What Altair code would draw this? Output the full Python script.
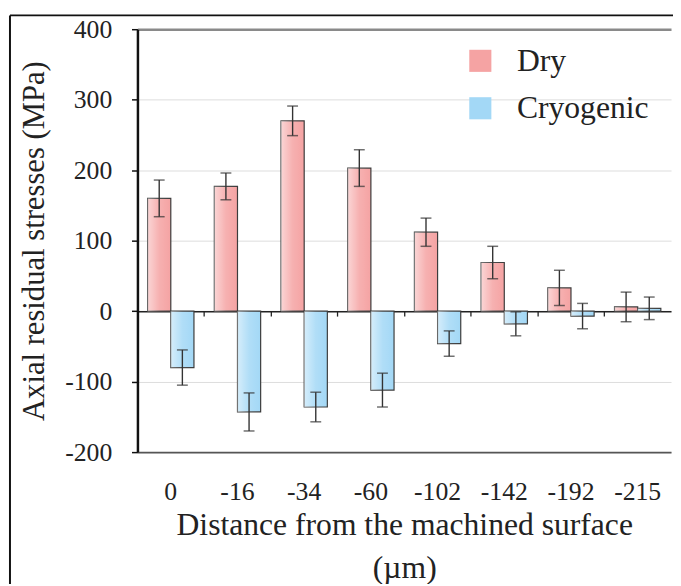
import altair as alt
import pandas as pd

categories = ["0", "-16", "-34", "-60", "-102", "-142", "-192", "-215"]
series_names = ["Dry", "Cryogenic"]
dry = [160, 177, 270, 203, 112, 69, 33, 6]
dry_err = [26, 19, 21, 26, 20, 23, 25, 21]
cryo = [-80, -143, -136, -112, -46, -18, -7, 4]
cryo_err = [25, 27, 21, 24, 18, 17, 18, 16]

rows = []
for i, c in enumerate(categories):
    rows.append({"cat": c, "series": "Dry", "value": dry[i], "err": dry_err[i]})
    rows.append({"cat": c, "series": "Cryogenic", "value": cryo[i], "err": cryo_err[i]})
df = pd.DataFrame(rows)
df["lo"] = df["value"] - df["err"]
df["hi"] = df["value"] + df["err"]

FONT = "Liberation Serif"
W, H = 540, 428

xscale = alt.Scale(domain=categories, paddingInner=0, paddingOuter=0)
xoff = alt.XOffset("series:N", sort=series_names,
                   scale=alt.Scale(domain=series_names, paddingInner=0, paddingOuter=0.44))
yscale = alt.Scale(domain=[-200, 400], nice=False, zero=False)

label_axis = alt.Axis(
    orient="bottom", ticks=False, labelFont=FONT, labelFontSize=26, labelColor="#222",
    labelPadding=27, labelAngle=0, domainColor="#555", domainWidth=2, grid=False,
    title=["Distance from the machined surface", "(\u00b5m)"], titleFont=FONT,
    titleFontSize=32, titleFontWeight="normal", titleColor="#222", titleLineHeight=44,
    titlePadding=5,
)
zero_axis = alt.Axis(
    orient="bottom", offset=-(H * 200 / 600), labels=False, ticks=True, tickSize=5,
    tickColor="#222", tickWidth=1.3, bandPosition=0, domainColor="#222", domainWidth=1.5,
    grid=False, title=None,
)
y_axis = alt.Axis(
    values=[-200, -100, 0, 100, 200, 300, 400], labelExpr="'' + datum.value",
    labelFont=FONT, labelFontSize=26,
    labelColor="#222", labelPadding=20, tickSize=6, tickColor="#111", tickWidth=1.5,
    domainColor="#111", domainWidth=2.5,
    gridColor=alt.condition("datum.value == 400", alt.value("#8a8a8a"), alt.value("#dcdcdc")),
    gridWidth=alt.condition("datum.value == 400", alt.value(2.5), alt.value(1)),
    title="Axial residual stresses (MPa)", titleFont=FONT, titleFontSize=31,
    titleFontWeight="normal", titleColor="#222", titlePadding=14,
)

base = alt.Chart(df)

bars = base.mark_bar(stroke="#3c3c3c", strokeWidth=1.2).encode(
    x=alt.X("cat:N", sort=categories, scale=xscale, axis=label_axis),
    xOffset=xoff,
    y=alt.Y("value:Q", scale=yscale, axis=y_axis),
    color=alt.Color(
        "series:N", sort=series_names,
        scale=alt.Scale(domain=series_names, range=["#f5a3a3", "#a3d8f6"]),
        legend=alt.Legend(
            orient="none", legendX=331, legendY=16, title=None, symbolType="square",
            symbolSize=500, symbolStrokeWidth=0, symbolOpacity=1, labelFont=FONT,
            labelFontSize=32, labelColor="#222", rowPadding=16, labelOffset=21, padding=0,
        ),
    ),
)

shine = base.mark_bar(
    fill=alt.Gradient(
        gradient="linear", x1=0, x2=1, y1=0, y2=0,
        stops=[
            alt.GradientStop(offset=0, color="rgba(255,255,255,0.55)"),
            alt.GradientStop(offset=0.5, color="rgba(255,255,255,0.15)"),
            alt.GradientStop(offset=1, color="rgba(255,255,255,0)"),
        ],
    ),
    strokeWidth=0,
).encode(
    x=alt.X("cat:N", sort=categories, scale=xscale, axis=None),
    xOffset=xoff,
    y=alt.Y("value:Q", scale=yscale, axis=y_axis),
)

err = base.mark_rule(color="#333", strokeWidth=1.4).encode(
    x=alt.X("cat:N", sort=categories, scale=xscale, axis=zero_axis),
    xOffset=xoff,
    y=alt.Y("lo:Q", scale=yscale, axis=y_axis),
    y2="hi:Q",
)
cap_lo = base.mark_tick(orient="horizontal", size=11, thickness=1.5, color="#333").encode(
    x=alt.X("cat:N", sort=categories, scale=xscale, axis=None),
    xOffset=xoff,
    y=alt.Y("lo:Q", scale=yscale, axis=y_axis),
)
cap_hi = base.mark_tick(orient="horizontal", size=11, thickness=1.5, color="#333").encode(
    x=alt.X("cat:N", sort=categories, scale=xscale, axis=None),
    xOffset=xoff,
    y=alt.Y("hi:Q", scale=yscale, axis=y_axis),
)

frame_df = pd.DataFrame({"k": [0]})
frame_left = alt.Chart(frame_df).mark_rule(color="#111", strokeWidth=2).encode(
    x=alt.value(-129), y=alt.value(-14), y2=alt.value(H + 140)
)
frame_top = alt.Chart(frame_df).mark_rule(color="#111", strokeWidth=2).encode(
    x=alt.value(-129), x2=alt.value(W + 10), y=alt.value(-14)
)

chart = (
    alt.layer(bars, shine, err, cap_lo, cap_hi, frame_left, frame_top)
    .resolve_axis(x="independent")
    .properties(
        width=W, height=H,
        background="white",
        autosize=alt.AutoSizeParams(type="none"),
        padding={"left": 131, "top": 18, "right": 2, "bottom": 130},
    )
    .configure_view(stroke="transparent")
)

chart.save("out.html", embed_options={"renderer": "svg", "actions": False})
